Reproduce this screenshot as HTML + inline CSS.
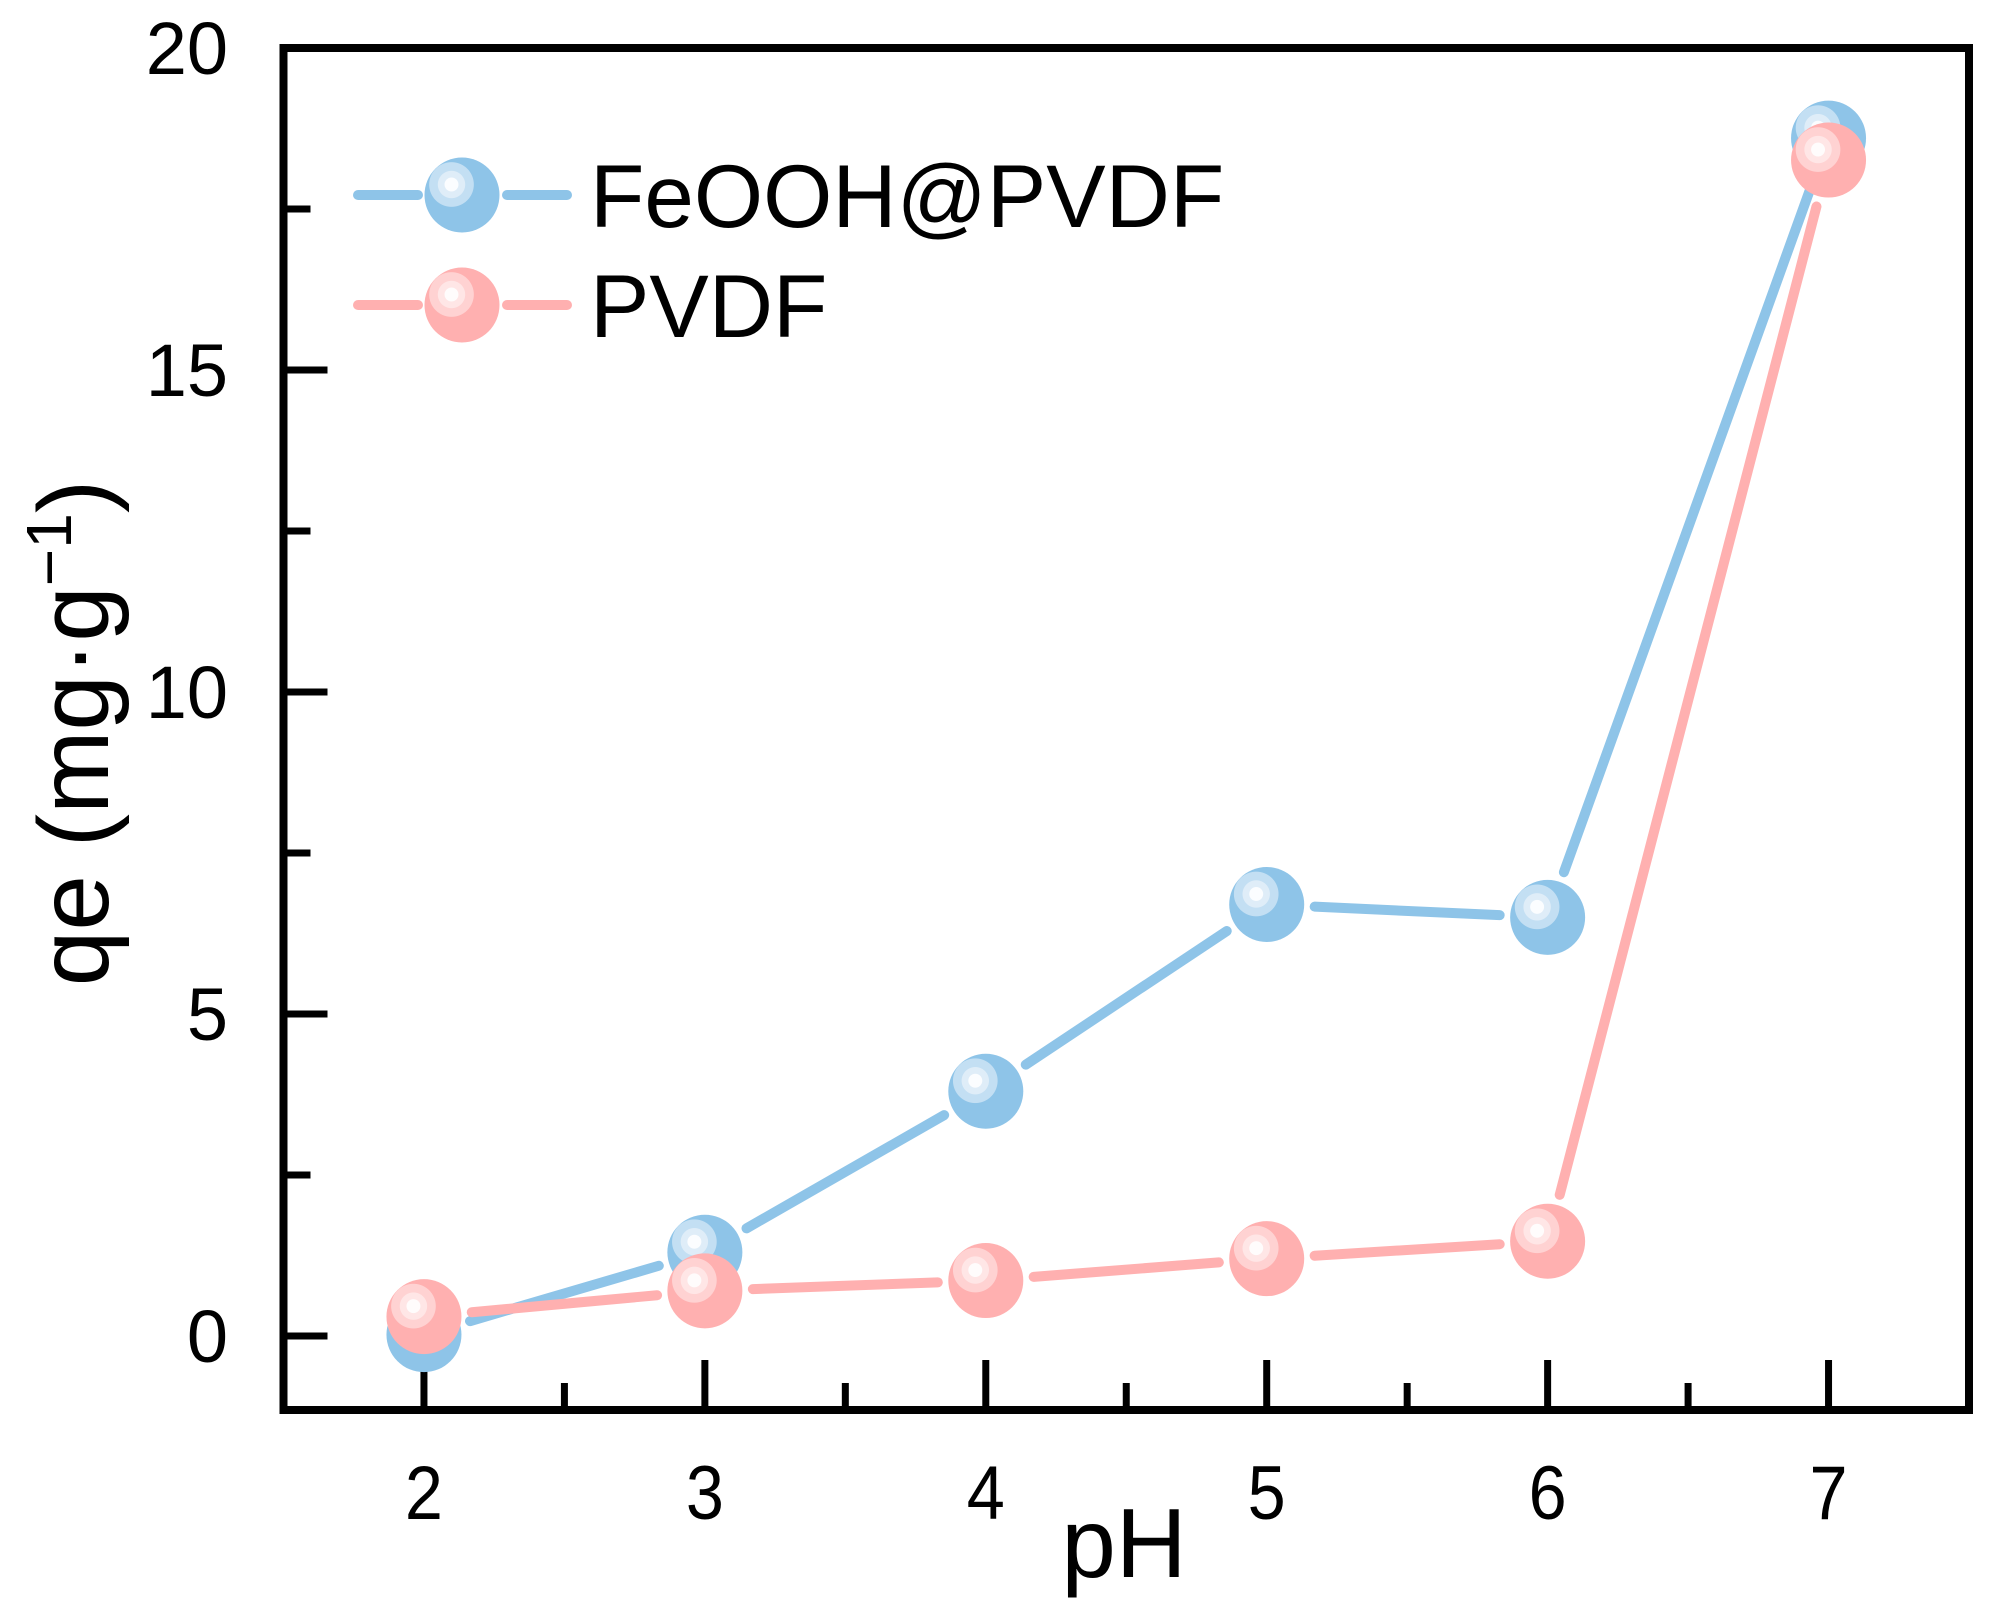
<!DOCTYPE html>
<html><head><meta charset="utf-8"><style>
html,body{margin:0;padding:0;background:#fff;}
svg{display:block;font-family:"Liberation Sans",Arial,sans-serif;}
</style></head><body>
<svg id="chart" width="2000" height="1611" viewBox="0 0 2000 1611" xmlns="http://www.w3.org/2000/svg">
<defs>
<radialGradient id="gBlue" cx="0.36" cy="0.36" r="0.64">
<stop offset="0" stop-color="#fbfdff"/><stop offset="0.14" stop-color="#fbfdff"/>
<stop offset="0.15" stop-color="#dfedf8"/><stop offset="0.28" stop-color="#dfedf8"/>
<stop offset="0.29" stop-color="#c3dff3"/><stop offset="0.46" stop-color="#c3dff3"/>
<stop offset="0.47" stop-color="#8ec4e8"/><stop offset="1" stop-color="#8ec4e8"/>
</radialGradient>
<radialGradient id="gPink" cx="0.36" cy="0.36" r="0.64">
<stop offset="0" stop-color="#fffcfc"/><stop offset="0.14" stop-color="#fffcfc"/>
<stop offset="0.15" stop-color="#ffe6e6"/><stop offset="0.28" stop-color="#ffe6e6"/>
<stop offset="0.29" stop-color="#ffd2d2"/><stop offset="0.46" stop-color="#ffd2d2"/>
<stop offset="0.47" stop-color="#ffb0b0"/><stop offset="1" stop-color="#ffb0b0"/>
</radialGradient>
</defs>
<g id="axes"></g>
<g id="series"></g>
<g id="legend">
  <line x1="358" y1="195" x2="418" y2="195" stroke="#8ec4e8" stroke-width="10" stroke-linecap="round"/>
  <line x1="507" y1="195" x2="567" y2="195" stroke="#8ec4e8" stroke-width="10" stroke-linecap="round"/>
  <circle cx="462" cy="195" r="37.5" fill="url(#gBlue)"/>
  <text x="590" y="227" font-size="89">FeOOH@PVDF</text>
  <line x1="358" y1="305" x2="418" y2="305" stroke="#ffb0b0" stroke-width="10" stroke-linecap="round"/>
  <line x1="507" y1="305" x2="567" y2="305" stroke="#ffb0b0" stroke-width="10" stroke-linecap="round"/>
  <circle cx="462" cy="305" r="37.5" fill="url(#gPink)"/>
  <text x="590" y="337" font-size="89">PVDF</text>
</g>
<text x="1124" y="1577" font-size="98" text-anchor="middle">pH</text>
<text transform="translate(108,733) rotate(-90)" font-size="100" text-anchor="middle">qe (mg·g<tspan dy="-37" font-size="64">−1</tspan><tspan dy="37">)</tspan></text>
</svg>
<script>
const categories = [2, 3, 4, 5, 6, 7];
const feoohValues = [0.02, 1.3, 3.8, 6.7, 6.5, 18.6];
const pvdfValues = [0.3, 0.7, 0.86, 1.2, 1.47, 18.26];
const yTickLabels = [0, 5, 10, 15, 20];
const yMinorTicks = [2.5, 7.5, 12.5, 17.5];
const xMinorTicks = [2.5, 3.5, 4.5, 5.5, 6.5];

const L = 283.5, R = 1969, T = 48, B = 1410;
const xMin = 1.5, xMax = 7.5, yMin = -1.15, yMax = 20;
const xs = v => L + (v - xMin) / (xMax - xMin) * (R - L);
const ys = v => B - (v - yMin) / (yMax - yMin) * (B - T);
const NS = 'http://www.w3.org/2000/svg';
function mk(tag, attrs, parent) {
  const e = document.createElementNS(NS, tag);
  for (const k in attrs) e.setAttribute(k, attrs[k]);
  parent.appendChild(e);
  return e;
}
const axes = document.getElementById('axes');
const frame = mk('rect', {x: L, y: T, width: R - L, height: B - T, fill: 'none', stroke: '#000', 'stroke-width': 8}, axes);



yTickLabels.forEach(v => {
  const y = ys(v);
  const t = mk('line', {x1: L, x2: L + 44, y1: y, y2: y, stroke: '#000', 'stroke-width': 7}, axes);
  
  
  const lb = mk('text', {x: 228, y: y + 26, 'font-size': 74, 'text-anchor': 'end'}, axes);
  lb.textContent = v;
  
  
});
yMinorTicks.forEach(v => {
  const y = ys(v);
  const t = mk('line', {x1: L, x2: L + 27, y1: y, y2: y, stroke: '#000', 'stroke-width': 7}, axes);
  
  
});
categories.forEach(v => {
  const x = xs(v);
  const t = mk('line', {x1: x, x2: x, y1: B, y2: B - 50, stroke: '#000', 'stroke-width': 7}, axes);
  
  
  const lb = mk('text', {x: x, y: 1519, 'font-size': 76, 'text-anchor': 'middle', transform: 'translate(' + x + ',0) scale(0.9,1) translate(' + (-x) + ',0)'}, axes);
  lb.textContent = v;
  
  
});
xMinorTicks.forEach(v => {
  const x = xs(v);
  const t = mk('line', {x1: x, x2: x, y1: B, y2: B - 27, stroke: '#000', 'stroke-width': 7}, axes);
  
  
});

const series = document.getElementById('series');
function drawSeries(vals, color, name) {
  const g = mk('g', {}, series);
  
  
  const gap = 48;
  for (let i = 0; i < vals.length - 1; i++) {
    const x1 = xs(categories[i]), y1 = ys(vals[i]);
    const x2 = xs(categories[i + 1]), y2 = ys(vals[i + 1]);
    const d = Math.hypot(x2 - x1, y2 - y1);
    if (d <= 2 * gap) continue;
    const ux = (x2 - x1) / d, uy = (y2 - y1) / d;
    const ln = mk('line', {x1: x1 + ux * gap, y1: y1 + uy * gap, x2: x2 - ux * gap, y2: y2 - uy * gap,
      stroke: color, 'stroke-width': 10, 'stroke-linecap': 'round'}, g);
    
    
  }
  return g;
}
const gB = drawSeries(feoohValues, '#8ec4e8', 'feooh');
const gP = drawSeries(pvdfValues, '#ffb0b0', 'pvdf');
feoohValues.forEach((v, i) => {
  const c = mk('circle', {cx: xs(categories[i]), cy: ys(v), r: 37.5, fill: 'url(#gBlue)'}, gB);
  
  
});
series.appendChild(gP);
pvdfValues.forEach((v, i) => {
  const c = mk('circle', {cx: xs(categories[i]), cy: ys(v), r: 37.5, fill: 'url(#gPink)'}, gP);
  
  
});
</script>
</body></html>
